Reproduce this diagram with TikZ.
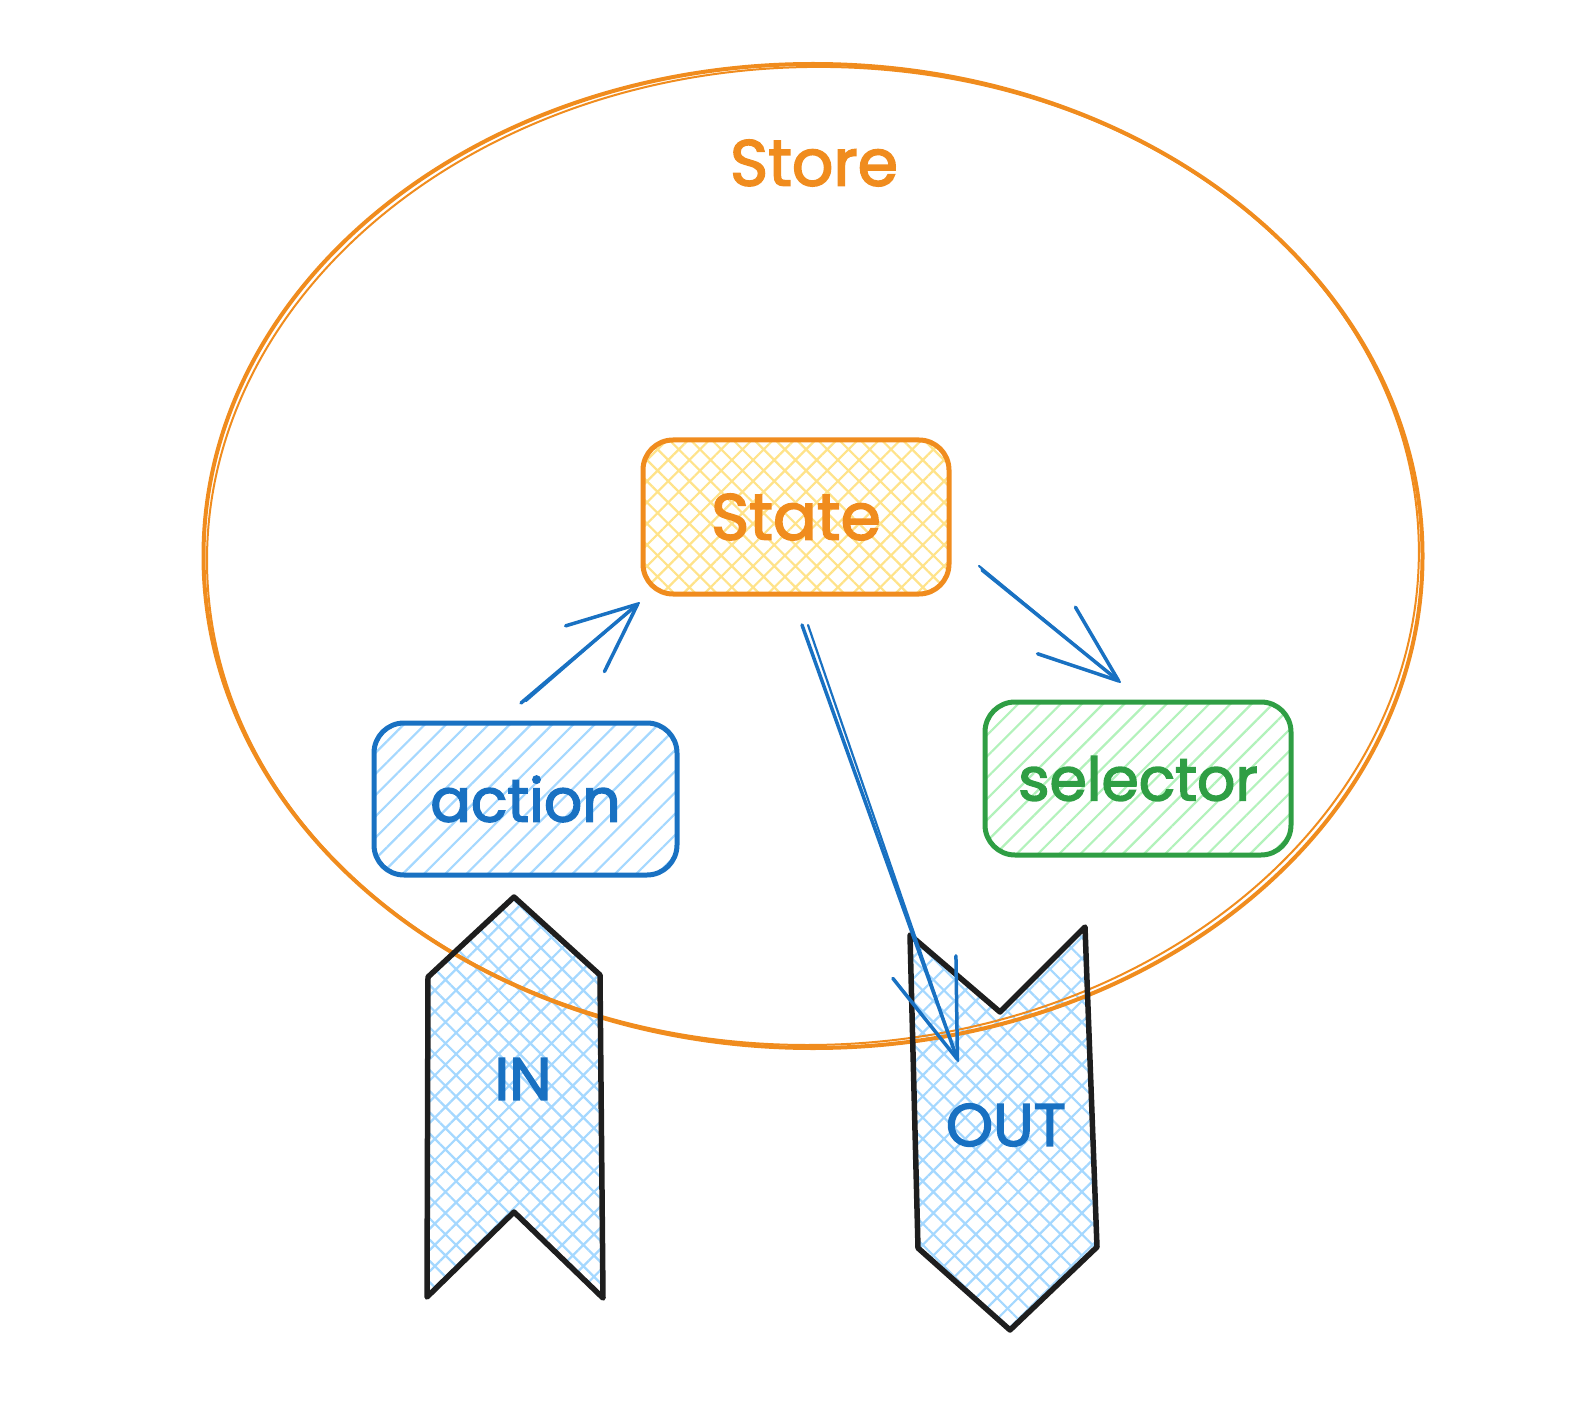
\documentclass[tikz,border=0pt]{standalone}
\usepackage{fontspec}
\setmainfont{Poppins}
\newfontfamily\handfont{Poppins}[FakeBold=2.5]
\usetikzlibrary{arrows.meta,patterns.meta,shapes.geometric}
\definecolor{cOrange}{HTML}{F08C1E}
\definecolor{cBlue}{HTML}{1971C2}
\definecolor{cGreen}{HTML}{2F9E44}
\definecolor{cYellowFill}{HTML}{FFE38A}
\definecolor{cBlueFill}{HTML}{A5D8FF}
\definecolor{cGreenFill}{HTML}{B2F2BB}
\definecolor{cInk}{HTML}{1E1E1E}
\begin{document}
\begin{tikzpicture}[x=1pt,y=-1pt,
  lbl/.style={font=\handfont\fontsize{60}{66}\selectfont, inner sep=0pt},
  lblbig/.style={font=\handfont\fontsize{65}{70}\selectfont, inner sep=0pt},
  rbox/.style={rounded corners=30pt, line width=5pt, inner sep=0pt, minimum width=#1},
  crossfill/.style={pattern={Hatch[angle=45,distance=15pt,line width=2.2pt]}, pattern color=#1},
  linefill/.style={pattern={Lines[angle=45,distance=15pt,line width=2.2pt]}, pattern color=#1},
  tagline/.style={draw=cInk, line width=5.5pt, line join=round, line cap=round},
  flow/.style={draw=cBlue, line width=3.5pt, line cap=round},
  flowthin/.style={draw=cBlue, line width=2.2pt, line cap=round}
]
\useasboundingbox (0,0) rectangle (1596,1404);

% tag shapes (fill first)
\coordinate (inT) at (514,897);
\coordinate (inR) at (600,975);
\coordinate (inBR) at (603,1298);
\coordinate (inN) at (514,1212);
\coordinate (inBL) at (427,1297);
\coordinate (inL) at (428,977);
\coordinate (outTL) at (910,935);
\coordinate (outN) at (1000,1012);
\coordinate (outTR) at (1085,927);
\coordinate (outBR) at (1097,1247);
\coordinate (outB) at (1010,1330);
\coordinate (outBL) at (918,1248);
\path[crossfill=cBlueFill] (inT) -- (inR) -- (inBR) -- (inN) -- (inBL) -- (inL) -- cycle;
\path[crossfill=cBlueFill] (outTL) -- (outN) -- (outTR) -- (outBR) -- (outB) -- (outBL) -- cycle;

% store ellipse
\node[draw=cOrange, line width=4pt, ellipse, minimum width=1219pt, minimum height=984pt, inner sep=0pt] (store) at (813,556) {};
\draw[cOrange, line width=2pt, rotate around={1.2:(store.center)}] (store.center) ellipse [x radius=606pt, y radius=489pt];
\node[lblbig, text=cOrange] (storelabel) at (814,163) {Store};

% tag outlines
\draw[tagline] (inT) -- (inR) -- (inBR) -- (inN) -- (inBL) -- (inL) -- cycle;
\draw[tagline] (outTL) -- (outN) -- (outTR) -- (outBR) -- (outB) -- (outBL) -- cycle;
\node[lbl, text=cBlue] (inlabel) at (523,1079) {IN};
\node[lbl, text=cBlue] (outlabel) at (1006,1125) {OUT};

% boxes
\node[rbox=306pt, minimum height=154pt, draw=cOrange, crossfill=cYellowFill, lblbig, text=cOrange] (state) at (796,517) {State};
\node[rbox=303pt, minimum height=152pt, draw=cBlue, linefill=cBlueFill, lbl, text=cBlue] (action) at (525.5,799) {action};
\node[rbox=306pt, minimum height=153pt, draw=cGreen, linefill=cGreenFill, lbl, text=cGreen] (selector) at (1138,778.5) {selector};

% arrows
\coordinate (a1s) at (521,703);
\coordinate (a1e) at (639,603);
\coordinate (a2s) at (982,570);
\coordinate (a2e) at (1120,682);
\coordinate (a3s) at (802,625);
\coordinate (a3e) at (958,1061);
\draw[flow, -{Straight Barb[length=69pt,width=60pt,line width=3.5pt,round]}] (a1s) -- (a1e);
\draw[flowthin] ([xshift=5pt,yshift=2pt]a1s) -- (a1e);
\draw[flow, -{Straight Barb[length=80pt,width=60pt,line width=3.5pt,round]}] (a2s) -- (a2e);
\draw[flowthin] ([xshift=-3pt,yshift=4pt]a2s) -- (a2e);
\draw[flow, -{Straight Barb[length=98pt,width=67pt,line width=3.5pt,round]}] (a3s) -- (a3e);
\draw[flowthin] ([xshift=6pt]a3s) -- (a3e);
\end{tikzpicture}
\end{document}
